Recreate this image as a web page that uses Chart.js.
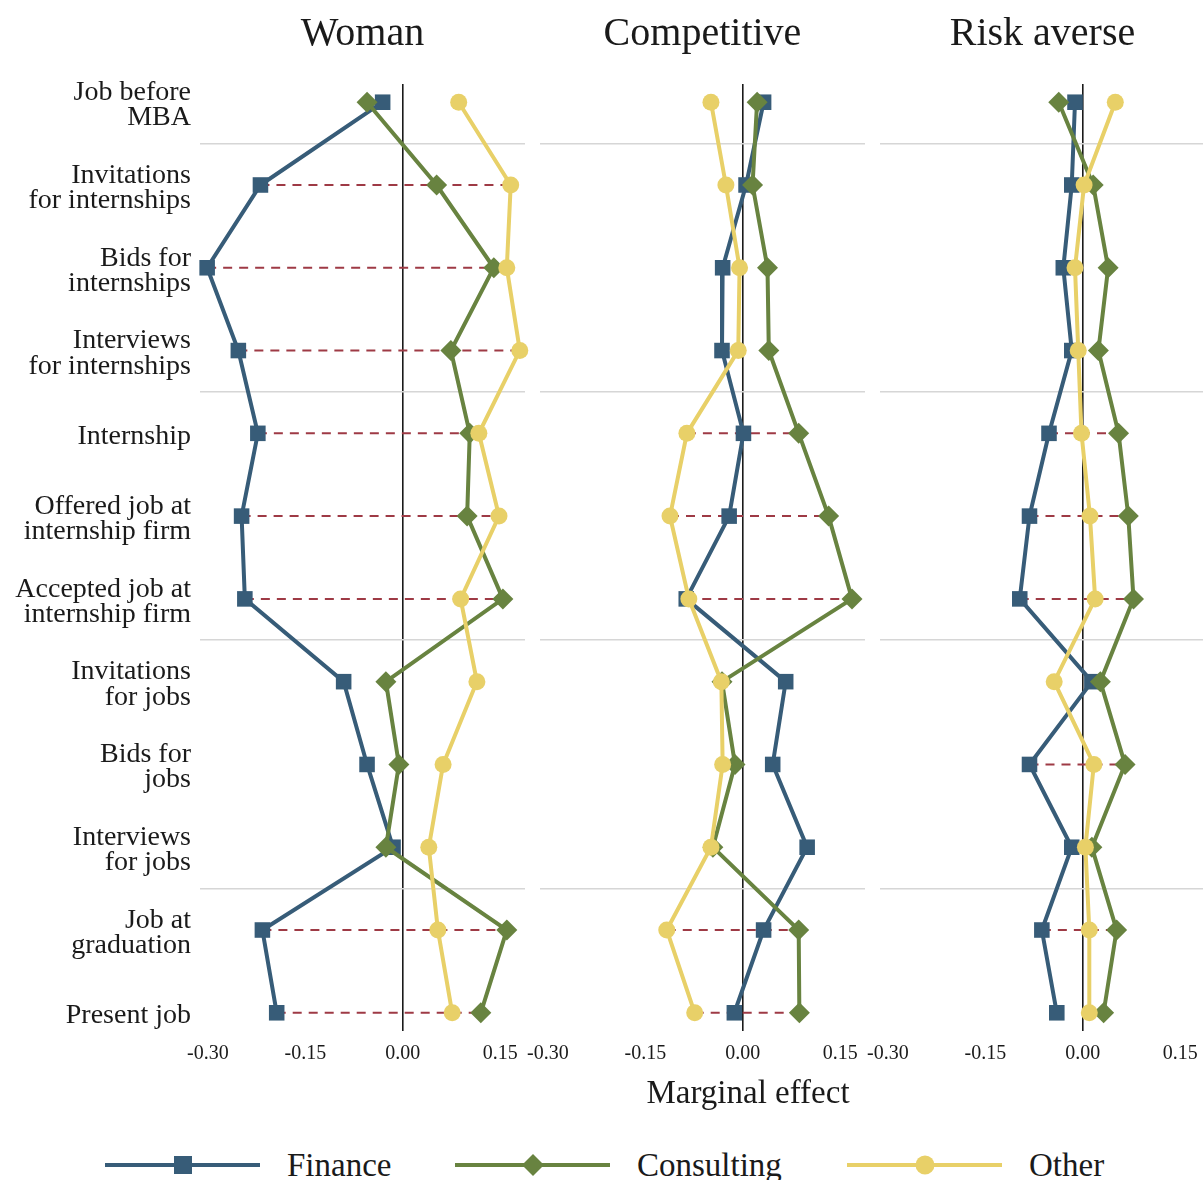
<!DOCTYPE html>
<html>
<head>
<meta charset="utf-8">
<title>Marginal effects by panel</title>
<script src="https://cdn.jsdelivr.net/npm/chart.js@4.4.1/dist/chart.umd.min.js"></script>
<style>
  html, body { margin: 0; padding: 0; background: #fff; overflow: hidden; }
  body { width: 1203px; height: 1180px; position: relative; font-family: "Liberation Serif", "Times New Roman", serif; color: #1a1a1a; }
  canvas { position: absolute; top: 0; }
  #xTitle { position: absolute; left: 548px; width: 400px; top: 1071px; line-height: 42px; font-size: 33px; text-align: center; }
  .leg { position: absolute; top: 1145px; height: 40px; }
  .leg svg { position: absolute; left: 0; top: 0; }
  .leg span { position: absolute; top: 0; line-height: 40px; font-size: 33px; white-space: nowrap; }
</style>
</head>
<body>
<canvas id="panel0" width="540" height="1075" style="left:0px"></canvas>
<canvas id="panel1" width="370" height="1075" style="left:510px"></canvas>
<canvas id="panel2" width="370" height="1075" style="left:850px"></canvas>
<div id="xTitle">Marginal effect</div>
<div id="legend"></div>

<script>
// Categories (top to bottom)
const categories = [
  ["Job before", "MBA"],
  ["Invitations", "for internships"],
  ["Bids for", "internships"],
  ["Interviews", "for internships"],
  ["Internship"],
  ["Offered job at", "internship firm"],
  ["Accepted job at", "internship firm"],
  ["Invitations", "for jobs"],
  ["Bids for", "jobs"],
  ["Interviews", "for jobs"],
  ["Job at", "graduation"],
  ["Present job"]
];

// group separators sit between these categories
const separators = [0.5, 3.5, 6.5, 9.5];
const xTicks = [-0.30, -0.15, 0.00, 0.15];

const panelTitles = ["Woman", "Competitive", "Risk averse"];
const seriesNames = ["Finance", "Consulting", "Other"];
const seriesColors = ["#375c78", "#688340", "#e8d068"];
const seriesMarkers = ["rect", "rectRot", "circle"];

// Woman
const womanFinance    = [-0.031, -0.219, -0.301, -0.253, -0.223, -0.248, -0.243, -0.091, -0.055, -0.015, -0.216, -0.194];
const womanConsulting = [-0.055,  0.052,  0.140,  0.074,  0.103,  0.099,  0.154, -0.026, -0.006, -0.026,  0.160,  0.120];
const womanOther      = [ 0.086,  0.166,  0.160,  0.180,  0.117,  0.148,  0.089,  0.114,  0.062,  0.040,  0.054,  0.076];
const womanDashed     = [1, 2, 3, 4, 5, 6, 10, 11];

// Competitive
const compFinance    = [ 0.032,  0.005, -0.031, -0.032,  0.001, -0.021, -0.087,  0.066,  0.046,  0.099,  0.032, -0.013];
const compConsulting = [ 0.022,  0.015,  0.038,  0.040,  0.086,  0.132,  0.168, -0.032, -0.012, -0.046,  0.086,  0.087];
const compOther      = [-0.049, -0.026, -0.005, -0.007, -0.086, -0.112, -0.083, -0.033, -0.031, -0.049, -0.117, -0.074];
const compDashed     = [4, 5, 6, 10, 11];

// Risk averse
const riskFinance    = [-0.012, -0.017, -0.030, -0.017, -0.052, -0.082, -0.097,  0.014, -0.082, -0.017, -0.063, -0.040];
const riskConsulting = [-0.037,  0.016,  0.039,  0.024,  0.055,  0.070,  0.078,  0.027,  0.065,  0.014,  0.052,  0.032];
const riskOther      = [ 0.050,  0.002, -0.012, -0.007, -0.002,  0.011,  0.019, -0.044,  0.017,  0.004,  0.010,  0.010];
const riskDashed     = [4, 5, 6, 8, 10];

const fontFamily = '"Liberation Serif", "Times New Roman", serif';
const textColor = "#1a1a1a";

function makePanel(canvasId, title, series, dashedRows, yWidth, showLabels) {
  const datasets = [];
  const radii = [11, 10.5, 8.5];

  series.forEach((values, s) => {
    datasets.push({
      label: seriesNames[s],
      data: values.map((v, i) => ({ x: v, y: i })),
      showLine: true,
      borderColor: seriesColors[s],
      backgroundColor: seriesColors[s],
      borderWidth: 4,
      pointStyle: seriesMarkers[s],
      pointRadius: radii[s],
      pointBackgroundColor: seriesColors[s],
      pointBorderWidth: 0,
      clip: false,
      order: 3 - s
    });
  });

  // dashed line from smallest to largest effect in a row
  dashedRows.forEach((row) => {
    const vals = series.map((values) => values[row]);
    datasets.push({
      label: "range",
      data: [{ x: Math.min(...vals), y: row }, { x: Math.max(...vals), y: row }],
      showLine: true,
      borderColor: "#9e3a45",
      borderWidth: 2,
      borderDash: [9, 7],
      pointRadius: 0,
      clip: false,
      order: 10
    });
  });

  return new Chart(document.getElementById(canvasId), {
    type: "scatter",
    data: { datasets: datasets },
    options: {
      responsive: false,
      animation: false,
      layout: { padding: { right: 15, left: 0, top: 0, bottom: 0 } },
      plugins: {
        legend: { display: false },
        tooltip: { enabled: false },
        title: {
          display: true,
          text: title,
          fullSize: false,
          color: textColor,
          font: { family: fontFamily, size: 40, weight: "normal", lineHeight: 1.2 },
          padding: { top: 10, bottom: 26 }
        }
      },
      scales: {
        x: {
          type: "linear",
          min: -0.312,
          max: 0.188,
          afterBuildTicks: (scale) => {
            scale.ticks = xTicks.map((v) => ({ value: v }));
          },
          afterFit: (scale) => {
            scale.height = 44;
          },
          border: { display: false },
          grid: {
            drawTicks: false,
            lineWidth: 1.6,
            color: (ctx) => (ctx.tick && ctx.tick.value === 0 ? "#1a1a1a" : "rgba(0,0,0,0)")
          },
          ticks: {
            padding: 11,
            autoSkip: false,
            maxRotation: 0,
            color: textColor,
            font: { family: fontFamily, size: 20 },
            callback: (v) => Number(v).toFixed(2)
          }
        },
        y: {
          type: "linear",
          min: -0.22,
          max: 11.22,
          reverse: true,
          afterBuildTicks: (scale) => {
            const vals = categories.map((c, i) => i).concat(separators).sort((a, b) => a - b);
            scale.ticks = vals.map((v) => ({ value: v }));
          },
          afterFit: (scale) => {
            scale.width = yWidth;
          },
          border: { display: false },
          grid: {
            drawTicks: false,
            lineWidth: 1.6,
            color: (ctx) => (ctx.tick && separators.includes(ctx.tick.value) ? "#d6d6d6" : "rgba(0,0,0,0)")
          },
          ticks: {
            display: showLabels,
            padding: 9,
            labelOffset: 3,
            autoSkip: false,
            color: textColor,
            font: { family: fontFamily, size: 28, lineHeight: 0.9 },
            callback: (v) => (Number.isInteger(v) ? categories[v] : "")
          }
        }
      }
    }
  });
}

makePanel("panel0", panelTitles[0], [womanFinance, womanConsulting, womanOther], womanDashed, 200, true);
makePanel("panel1", panelTitles[1], [compFinance, compConsulting, compOther], compDashed, 30, false);
makePanel("panel2", panelTitles[2], [riskFinance, riskConsulting, riskOther], riskDashed, 30, false);

// Legend
const legendLeft = [105, 455, 847];
const legendEl = document.getElementById("legend");
seriesNames.forEach((name, s) => {
  const c = seriesColors[s];
  let marker;
  if (s === 0) marker = `<rect x="69" y="11" width="18" height="18" fill="${c}"/>`;
  else if (s === 1) marker = `<polygon points="78,9 89,20 78,31 67,20" fill="${c}"/>`;
  else marker = `<circle cx="78" cy="20" r="9.5" fill="${c}"/>`;
  const item = document.createElement("div");
  item.className = "leg";
  item.style.left = legendLeft[s] + "px";
  item.innerHTML =
    `<svg width="160" height="40"><line x1="0" y1="20" x2="155" y2="20" stroke="${c}" stroke-width="4"/>${marker}</svg>` +
    `<span style="left:182px">${name}</span>`;
  legendEl.appendChild(item);
});
</script>
</body>
</html>
